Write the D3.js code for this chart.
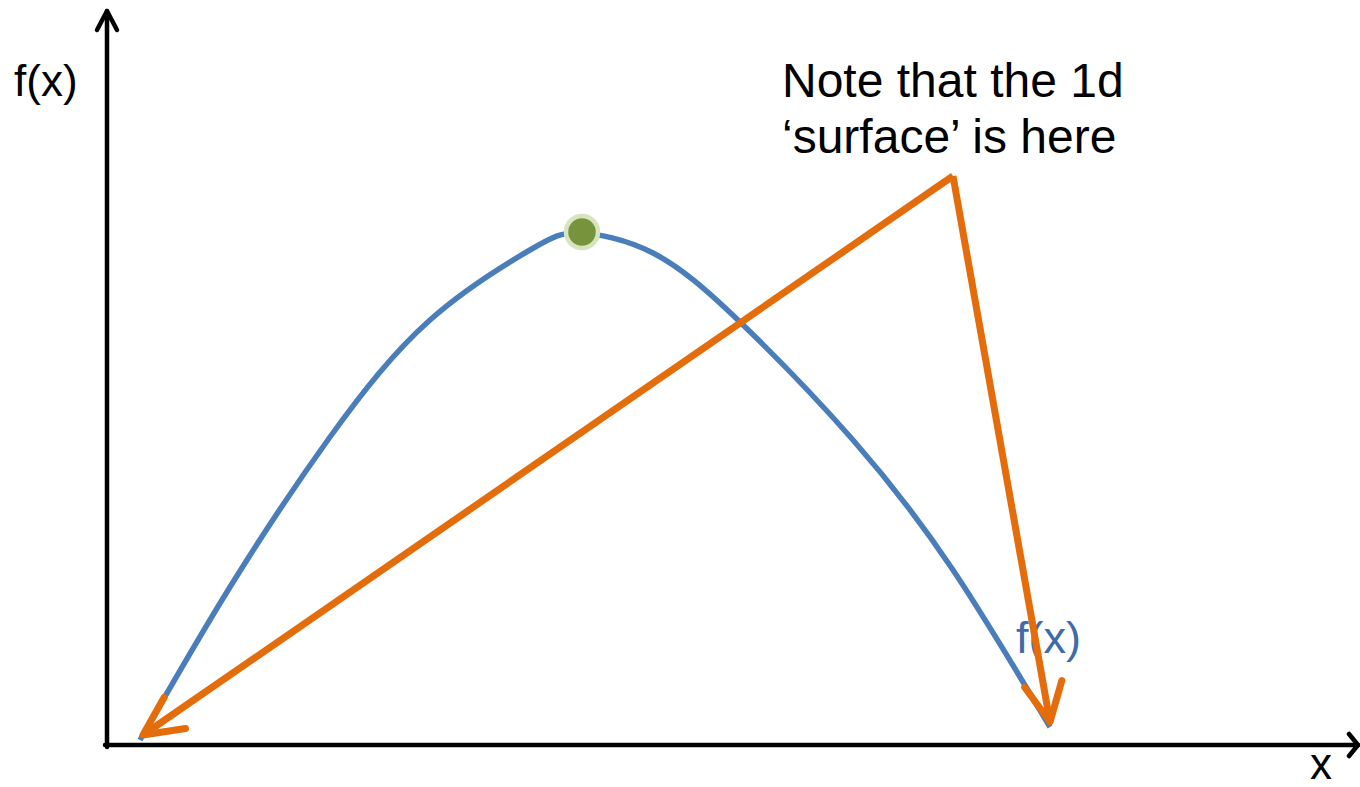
<!DOCTYPE html>
<html>
<head>
<meta charset="utf-8">
<script src="https://cdn.jsdelivr.net/npm/d3@7"></script>
<style>
  html, body { margin: 0; padding: 0; background: #fff; }
  svg { display: block; }
  text { font-family: "Liberation Sans", Arial, sans-serif; }
</style>
</head>
<body>
<svg id="chart" width="1360" height="787"></svg>
<script>
// ---- data (x, f(x)) in chart units ----
const curveX = [33, 123, 223, 323, 423, 473, 546, 633, 746, 846, 943];
const curveY = [5, 158, 308, 425, 495, 512, 492, 423, 305, 175, 18];
const maxPoint = [473, 513];
// orange path: first arrow tip, apex, second arrow tip
const arrowX = [36, 846, 943];
const arrowY = [10, 569, 23];
const axisLabels = ["f(x)", "x"];
const curveLabel = "f(x)";
const noteLines = ["Note that the 1d", "\u2018surface\u2019 is here"];

// ---- scales ----
const x = d3.scaleLinear().domain([0, 1250]).range([107, 1357]);
const y = d3.scaleLinear().domain([0, 735]).range([745, 10]);

const svg = d3.select("#chart");

// axes
const axisG = svg.append("g").attr("stroke", "#000").attr("stroke-width", 4.5)
  .attr("fill", "none").attr("stroke-linecap", "round").attr("stroke-linejoin", "round");
axisG.append("line").attr("x1", x(0)).attr("y1", y(0) + 2).attr("x2", x(0)).attr("y2", y(735) + 1);
axisG.append("line").attr("x1", x(0) - 2).attr("y1", y(0)).attr("x2", x(1250) + 1).attr("y2", y(0));
axisG.append("path").attr("d", `M${x(0) - 10},${y(735) + 20}L${x(0)},${y(735) + 1}L${x(0) + 10},${y(735) + 20}`);
axisG.append("path").attr("d", `M${x(1250) - 8},${y(0) - 11}L${x(1250) + 1},${y(0)}L${x(1250) - 8},${y(0) + 11}`);

// axis labels
svg.append("text").attr("x", 14).attr("y", 96).attr("font-size", 44).attr("fill", "#000").text(axisLabels[0]);
svg.append("text").attr("x", 1310).attr("y", 779).attr("font-size", 44).attr("fill", "#000").text(axisLabels[1]);

// blue curve
const pts = curveX.map((d, i) => [d, curveY[i]]);
const line = d3.line().x(d => x(d[0])).y(d => y(d[1])).curve(d3.curveNatural);
svg.append("path").attr("d", line(pts)).attr("fill", "none")
  .attr("stroke", "#4a7ebb").attr("stroke-width", 5.5);

// curve label
svg.append("text").attr("x", 1016).attr("y", 653).attr("font-size", 45).attr("fill", "#3f6ba8").text(curveLabel);

// orange arrows
const orange = "#e46c0a";
const og = svg.append("g").attr("stroke", orange).attr("stroke-width", 7).attr("fill", "none");
function arrow(fromIdx, toIdx) {
  const x0 = x(arrowX[fromIdx]), y0 = y(arrowY[fromIdx]);
  const x1 = x(arrowX[toIdx]), y1 = y(arrowY[toIdx]);
  og.append("line").attr("x1", x0).attr("y1", y0).attr("x2", x1).attr("y2", y1)
    .attr("stroke-linecap", "butt");
  const ang = Math.atan2(y0 - y1, x0 - x1);
  const L = 43, spread = 26 * Math.PI / 180;
  const a1 = ang - spread, a2 = ang + spread;
  og.append("path")
    .attr("d", `M${x1 + L * Math.cos(a1)},${y1 + L * Math.sin(a1)}L${x1},${y1}L${x1 + L * Math.cos(a2)},${y1 + L * Math.sin(a2)}`)
    .attr("stroke-linecap", "round").attr("stroke-linejoin", "round");
}
arrow(1, 0);
arrow(1, 2);

// maximum point
svg.append("circle").attr("cx", x(maxPoint[0]) + 2).attr("cy", y(maxPoint[1]))
  .attr("r", 16).attr("fill", "#77933c").attr("stroke", "#d7e4bd").attr("stroke-width", 4.5);

// note text
const note = svg.append("text").attr("font-size", 48).attr("fill", "#000");
note.append("tspan").attr("x", 782).attr("y", 97).text(noteLines[0]);
note.append("tspan").attr("x", 782).attr("y", 153).text(noteLines[1]);
</script>
</body>
</html>
